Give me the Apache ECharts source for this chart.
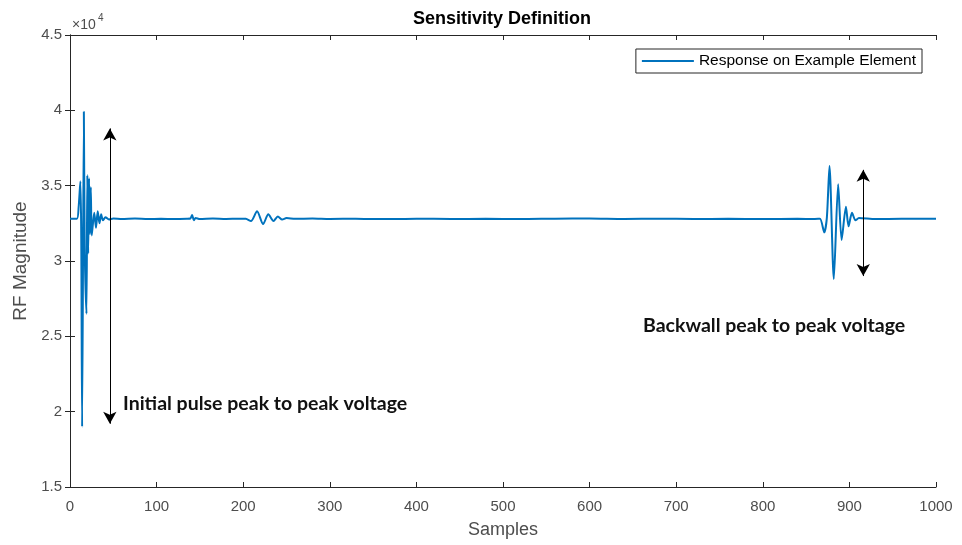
<meta charset="UTF-8">
<style>body { margin: 0; }</style>
<script src="https://cdn.jsdelivr.net/npm/echarts@6/dist/echarts.min.js"></script>
<div id="main" style="width: 962px; height: 545px;"></div>
<script>
    // samples (flat stretches kept sparse)
    var sampleIdx = [0, 8, 10, 12, 13, 14, 16, 17, 19, 20, 21, 22, 23, 24, 25, 26, 28, 30, 32, 34, 36, 38, 41, 45, 50,
        60, 75, 90, 105, 120, 135, 139, 141, 143, 145, 150, 165, 180, 195, 203, 209, 216, 223, 229, 235, 240, 245, 250,
        260, 280, 300, 330, 360, 400, 440, 480, 520, 560, 600, 640, 680, 720, 760, 800, 840, 860,
        866, 871, 874, 877, 882, 887, 891, 896, 899, 903, 907, 911, 930, 960, 1000];
    var rfValue = [32800, 32800, 33600, 35300, 31500, 19000, 39900, 31000, 26500, 35700, 30500, 35500, 31800, 34900, 31700, 32200, 33200, 32200, 33300, 32500, 33100, 32700, 32900, 32750, 32820,
        32780, 32820, 32790, 32800, 32780, 32800, 32820, 33050, 32700, 32850, 32780, 32820, 32790, 32810, 32800, 32650, 33300, 32450, 33100, 32650, 32950, 32750, 32850,
        32800, 32820, 32790, 32810, 32780, 32810, 32790, 32800, 32780, 32810, 32820, 32790, 32810, 32790, 32800, 32780, 32800, 32790,
        32800, 31900, 32900, 36300, 28800, 35100, 31400, 33600, 32300, 33200, 32700, 32850, 32780, 32800, 32800];
    var xTicks = [0, 1000, 100];
    var yTicks = [15000, 45000, 5000];
    // peak to peak arrows: [sample, top, bottom]
    var initialArrow = [46, 38800, 19200];
    var backwallArrow = [916, 36050, 29000];

    var points = [];
    for (var i = 0; i < sampleIdx.length; i++) {
        points.push([sampleIdx[i], rfValue[i]]);
    }

    var axisCol = '#262626';
    var labelCol = '#4d4d4d';
    var font = 'Liberation Sans';

    var mychart = echarts.init(document.getElementById('main'));
    var option = {
        animation: false,
        backgroundColor: '#fff',
        title: {
            text: 'Sensitivity Definition',
            left: 413, top: 10, padding: 0,
            textStyle: {fontFamily: font, fontSize: 18, fontWeight: 'bold', color: '#000'}
        },
        legend: {
            data: ['Response on Example Element'],
            right: 40, top: 49,
            padding: [4, 6, 4, 6],
            borderColor: axisCol, borderWidth: 1,
            backgroundColor: '#fff',
            icon: 'rect',
            itemWidth: 52, itemHeight: 2, itemGap: 4,
            textStyle: {fontFamily: font, fontSize: 15.5, color: '#000'}
        },
        grid: {left: 70, right: 26, top: 35, bottom: 58},
        xAxis: [{
            type: 'value', min: xTicks[0], max: xTicks[1], interval: xTicks[2],
            name: 'Samples', nameLocation: 'middle', nameGap: 34,
            nameTextStyle: {fontFamily: font, fontSize: 18, color: labelCol},
            axisLine: {lineStyle: {color: axisCol, width: 1}},
            axisTick: {inside: true, length: 5, lineStyle: {color: axisCol}},
            axisLabel: {
                fontFamily: font, fontSize: 15, color: labelCol, margin: 12,
                formatter: function (v) { return String(v); }
            },
            splitLine: {show: false}
        }, {
            type: 'value', position: 'top', min: xTicks[0], max: xTicks[1], interval: xTicks[2],
            axisLine: {show: true, lineStyle: {color: axisCol, width: 1}},
            axisTick: {inside: true, length: 5, lineStyle: {color: axisCol}},
            axisLabel: {show: false}, splitLine: {show: false}
        }],
        yAxis: [{
            type: 'value', min: yTicks[0], max: yTicks[1], interval: yTicks[2],
            name: 'RF Magnitude', nameLocation: 'middle', nameGap: 38, nameRotate: 90,
            nameTextStyle: {fontFamily: font, fontSize: 19, color: labelCol},
            axisLine: {show: true, lineStyle: {color: axisCol, width: 1}},
            axisTick: {show: true, inside: true, length: 5, lineStyle: {color: axisCol}},
            axisLabel: {
                fontFamily: font, fontSize: 15, color: labelCol, margin: 8,
                formatter: function (v) { return String(v / 10000); }
            },
            splitLine: {show: false}
        }, {
            type: 'value', position: 'right', min: yTicks[0], max: yTicks[1], interval: yTicks[2],
            axisLine: {show: true, lineStyle: {color: axisCol, width: 1}},
            axisTick: {show: true, inside: true, length: 5, lineStyle: {color: axisCol}},
            axisLabel: {show: false}, splitLine: {show: false}
        }],
        graphic: [
            {type: 'text', left: 72, top: 18, style: {text: '×10', fontFamily: font, fontSize: 14, fill: labelCol}},
            {type: 'text', left: 98, top: 13, style: {text: '4', fontFamily: font, fontSize: 10, fill: labelCol}},
            {type: 'text', left: 123, top: 394, style: {text: 'Initial pulse peak to peak voltage', fontFamily: 'Lato', fontWeight: 'bold', fontSize: 19.5, fill: '#111'}},
            {type: 'text', left: 643, top: 316, style: {text: 'Backwall peak to peak voltage', fontFamily: 'Lato', fontWeight: 'bold', fontSize: 19.5, fill: '#111'}}
        ],
        series: [{
            name: 'Response on Example Element',
            type: 'line',
            data: points,
            symbol: 'none',
            smooth: 0.25,
            lineStyle: {color: '#0072BD', width: 2},
            itemStyle: {color: '#0072BD'},
            markLine: {
                silent: true,
                symbol: ['arrow', 'arrow'],
                symbolSize: [10, 12],
                label: {show: false},
                lineStyle: {color: '#000', width: 1, type: 'solid'},
                data: [
                    [{coord: [initialArrow[0], initialArrow[1]]}, {coord: [initialArrow[0], initialArrow[2]]}],
                    [{coord: [backwallArrow[0], backwallArrow[1]]}, {coord: [backwallArrow[0], backwallArrow[2]]}]
                ]
            }
        }]
    };
    mychart.setOption(option);
</script>
